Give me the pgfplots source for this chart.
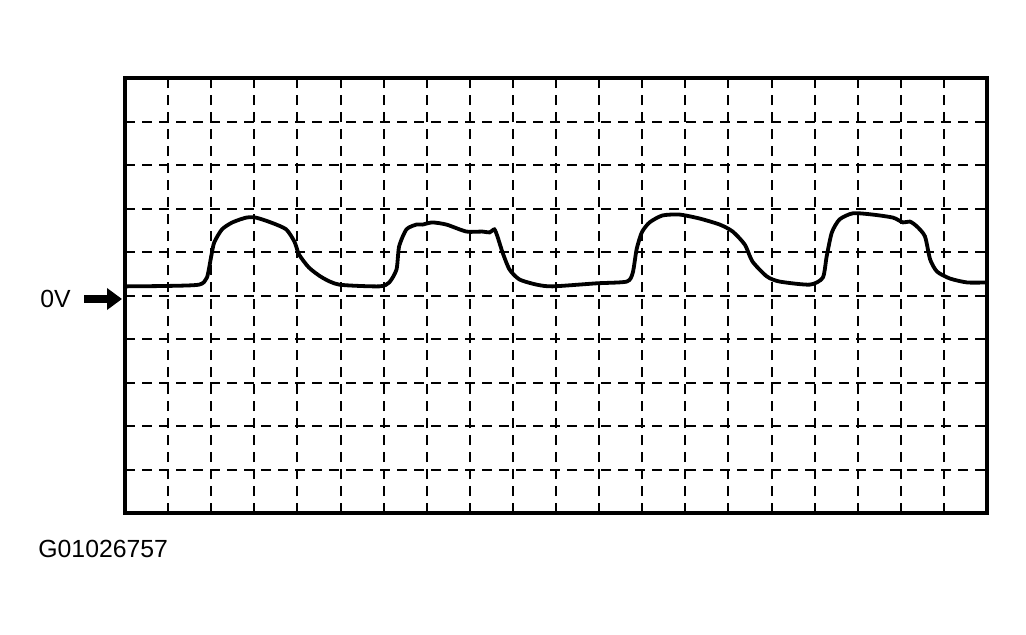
\documentclass[border=0pt]{standalone}
\usepackage{fontspec}
\setmainfont{Liberation Sans}
\usepackage{pgfplots}
\pgfplotsset{compat=1.18}
\usetikzlibrary{arrows.meta}
\begin{document}
\begin{tikzpicture}
\useasboundingbox (0,0) rectangle (513pt,317pt);
\begin{axis}[
    at={(62.5pt,60.5pt)}, anchor=south west,
    width=431pt, height=217.5pt, scale only axis,
    xmin=0, xmax=20, ymin=-5, ymax=5,
    xtick={0,...,20}, ytick={-5,...,5},
    xticklabels={}, yticklabels={},
    major tick length=0pt,
    grid=major,
    grid style={black, line width=1pt, dash pattern=on 5pt off 3.5pt},
    axis line style={line width=1.6pt},
  ]
  \addplot[black, line width=1.9pt, smooth, tension=0.4] coordinates {
    (0,0.21) (1.0,0.22) (1.72,0.25) (1.90,0.41) (2.00,0.90) (2.07,1.22)
    (2.25,1.52) (2.49,1.68) (2.81,1.79) (3.04,1.79) (3.41,1.67) (3.74,1.52)
    (3.93,1.24) (4.04,0.94) (4.27,0.64) (4.58,0.41) (4.97,0.25) (5.90,0.21)
    (6.13,0.30) (6.30,0.60) (6.36,1.13) (6.53,1.52) (6.76,1.63) (6.90,1.63)
    (7.13,1.68) (7.46,1.63) (7.92,1.47) (8.29,1.47) (8.46,1.45) (8.57,1.52)
    (8.64,1.36) (8.76,0.99) (8.92,0.60) (9.15,0.37) (9.55,0.25) (9.92,0.21)
    (10.94,0.28) (11.64,0.32) (11.78,0.52) (11.87,1.06) (11.99,1.45)
    (12.17,1.68) (12.47,1.84) (12.87,1.86) (13.33,1.77) (13.80,1.63)
    (14.10,1.47) (14.38,1.17) (14.56,0.78) (14.89,0.44) (15.19,0.32)
    (15.89,0.25) (16.19,0.41) (16.28,0.90) (16.40,1.45) (16.58,1.75)
    (16.89,1.89) (17.35,1.86) (17.82,1.79) (18.05,1.68) (18.21,1.70)
    (18.37,1.59) (18.56,1.36) (18.68,0.83) (18.84,0.55) (19.14,0.39)
    (19.54,0.30) (20,0.30)
  };
\end{axis}
\draw[line width=4pt, -{Triangle[length=7.5pt,width=10.5pt]}] (42pt,167.5pt) -- (61pt,167.5pt);
\node[anchor=east, inner sep=0pt, font=\fontsize{12.4}{14}\selectfont] at (35.5pt,167.5pt) {0V};
\node[anchor=west, inner sep=0pt, font=\fontsize{12.4}{14}\selectfont] at (19pt,42.5pt) {G01026757};
\end{tikzpicture}
\end{document}
